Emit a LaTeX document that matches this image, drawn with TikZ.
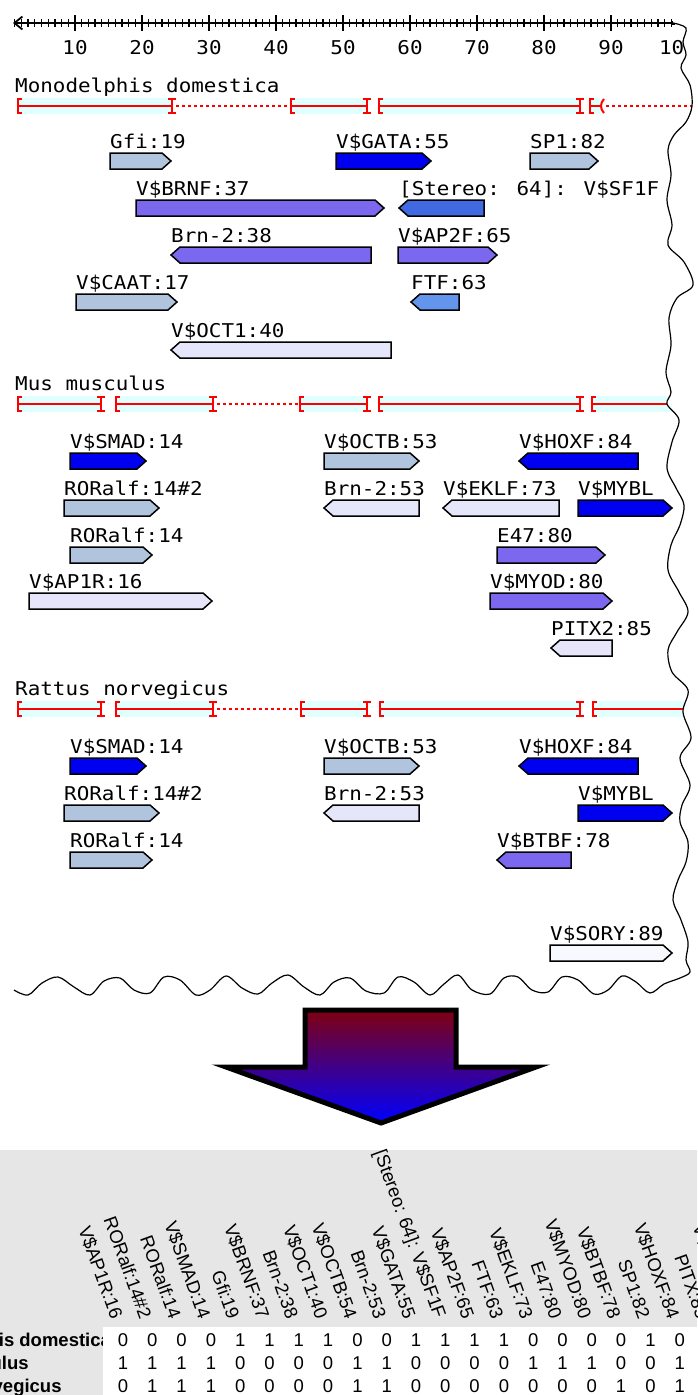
\documentclass[tikz,border=0pt]{standalone}
\usepackage{fontspec}
\usepackage{tikz}
\usetikzlibrary{arrows.meta}
\newfontfamily\seqfont[FakeStretch=1.1]{DejaVu Sans Mono}
\newfontfamily\tabfont{Liberation Sans}

\definecolor{lsblue}{HTML}{B0C4DE}
\definecolor{fullblue}{HTML}{0000F0}
\definecolor{msblue}{HTML}{7B68EE}
\definecolor{rblue}{HTML}{4169E1}
\definecolor{cfblue}{HTML}{6495ED}
\definecolor{lav}{HTML}{E6E6FA}
\definecolor{ghost}{HTML}{F8F8FF}
\definecolor{exonband}{HTML}{E0FFFF}
\definecolor{tablegray}{HTML}{E6E6E6}
\definecolor{darkred}{HTML}{800010}

% binding sites: box pointing right / left, label on top
\newcommand{\siteR}[6]{%
  \draw[site, fill=#5] (#2,#4) -- (#3-9,#4) -- (#3,#4+8) -- (#3-9,#4+16) -- (#2,#4+16) -- cycle;
  \node[sitelabel] (#1) at (#2,#4-5) {#6};}
\newcommand{\siteL}[6]{%
  \draw[site, fill=#5] (#3,#4) -- (#2+9,#4) -- (#2,#4+8) -- (#2+9,#4+16) -- (#3,#4+16) -- cycle;
  \node[sitelabel] (#1) at (#2,#4-5) {#6};}

% aligned blocks on the red line
\newcommand{\exon}[3]{%
  \fill[exonband] (#1,#3-8) rectangle (#2,#3+8);
  \draw[exonline] (#1,#3) -- (#2,#3);
  \draw[exonline] (#1+4,#3-7) -- (#1,#3-7) -- (#1,#3+7) -- (#1+4,#3+7);
  \draw[exonline] (#2,#3-7) -- (#2,#3+7) (#2-4,#3-7) -- (#2+4,#3-7) (#2-4,#3+7) -- (#2+4,#3+7);}
\newcommand{\exonopen}[3]{%
  \fill[exonband] (#1,#3-8) rectangle (#2,#3+8);
  \draw[exonline] (#1,#3) -- (#2,#3);
  \draw[exonline] (#1+4,#3-7) -- (#1,#3-7) -- (#1,#3+7) -- (#1+4,#3+7);}

% torn paper edge, right side then bottom
\newcommand{\tornpath}{plot[smooth, tension=0.55] coordinates {(673,23) (686,28) (683,42) (686,55)
  (681,68) (690,85) (692,106) (686,122) (674,135) (668,150) (671,175) (667,200) (672,225)
  (668,245) (684,262) (693,285) (677,298) (669,318) (671,345) (666,372) (671,392) (667,404)
  (679,420) (672,442) (667,468) (676,488) (684,505) (680,525) (671,545) (668,570) (679,592)
  (688,612) (677,632) (668,650) (672,672) (688,690) (683,712) (691,738) (680,758) (690,785)
  (682,805) (680,822) (688,842) (686,862) (678,880) (673,900) (681,920) (688,942) (686,960)
  (690,972) (680,978) (664,984) (650,993) (636,982) (622,976) (608,990) (594,994) (578,980)
  (562,977) (548,992) (532,990) (518,977) (504,978) (490,994) (472,990) (458,975) (444,984)
  (430,995) (414,982) (398,977) (384,993) (366,991) (350,978) (334,982) (320,995) (304,987)
  (288,975) (272,983) (258,994) (242,988) (226,976) (210,990) (196,995) (180,980) (164,977)
  (150,993) (134,990) (120,978) (104,981) (90,995) (74,987) (58,977) (42,983) (28,995) (14,990)}}

\begin{document}
\begin{tikzpicture}[x=1pt, y=-1pt,
    site/.style={draw=black, line width=1.5pt, line join=miter},
    sitelabel/.style={anchor=base west, inner sep=0pt, font=\seqfont\fontsize{19}{19}\selectfont},
    scalelabel/.style={inner sep=0pt, font=\seqfont\fontsize{19}{19}\selectfont},
    exonline/.style={red, line width=2pt},
    gapline/.style={red, line width=1.6pt, dash pattern=on 3pt off 3pt},
    rulertick/.style={black, line width=1.3pt},
    torn/.style={black, line width=1.2pt},
    cell/.style={anchor=base, inner sep=0pt, font=\tabfont\fontsize{18.5}{18.5}\selectfont},
    colhead/.style={anchor=east, rotate=-70, inner sep=0pt, font=\tabfont\fontsize{18.5}{18.5}\selectfont},
    rowhead/.style={anchor=base west, inner sep=0pt, font=\tabfont\bfseries\fontsize{18.5}{18.5}\selectfont}]
  \useasboundingbox (0,0) rectangle (697,1395);
  \clip (0,0) rectangle (697,1395);

  % scale
  \draw[line width=1.8pt, {Straight Barb[length=8pt,width=13pt]}-] (13,23) -- (673,23);
  \foreach \v in {1,...,99}
    \draw[rulertick] ({8+6.7*\v},19) -- ({8+6.7*\v},27);
  \foreach \v in {10,20,...,90}
    \draw[rulertick] ({8+6.7*\v},15) -- ({8+6.7*\v},31);
  \foreach \v in {10,20,...,100}
    \node[scalelabel] (s\v) at ({8+6.7*\v},48) {\v};
  \fill (671,21) rectangle (675,25);

  % Monodelphis domestica
  \node[sitelabel] (md) at (15,92) {Monodelphis domestica};
  \exon{18}{172}{106}
  \draw[gapline] (176,106) -- (291,106);
  \exon{291}{367}{106}
  \exon{379}{580}{106}
  \exonopen{590}{600}{106}
  \draw[exonline] (604,99) .. controls (600,103) and (600,109) .. (604,113);
  \draw[gapline] (606,106) -- (697,106);

  \siteR{gfiMd}{110}{171}{153}{lsblue}{Gfi:19}
  \siteR{gataMd}{336}{431}{153}{fullblue}{V\$GATA:55}
  \siteR{spMd}{530}{598}{153}{lsblue}{SP1:82}
  \siteR{brnfMd}{136}{384}{200}{msblue}{V\$BRNF:37}
  \siteL{sfMd}{399}{484}{200}{rblue}{[Stereo: 64]: V\$SF1F}
  \siteL{brnMd}{171}{371}{247}{msblue}{Brn-2:38}
  \siteR{aptwoMd}{398}{497}{247}{msblue}{V\$AP2F:65}
  \siteR{caatMd}{76}{177}{294}{lsblue}{V\$CAAT:17}
  \siteL{ftfMd}{411}{459}{294}{cfblue}{FTF:63}
  \siteL{octMd}{171}{391}{342}{lav}{V\$OCT1:40}

  % Mus musculus
  \node[sitelabel] (mm) at (15,390) {Mus musculus};
  \exon{18}{101}{404}
  \exon{116}{213}{404}
  \draw[gapline] (217,404) -- (300,404);
  \exon{300}{367}{404}
  \exon{379}{580}{404}
  \exonopen{592}{697}{404}

  \siteR{smadMm}{70}{146}{453}{fullblue}{V\$SMAD:14}
  \siteR{octbMm}{324}{419}{453}{lsblue}{V\$OCTB:53}
  \siteL{hoxfMm}{519}{638}{453}{fullblue}{V\$HOXF:84}
  \siteR{rorbMm}{64}{159}{500}{lsblue}{RORalf:14\#2}
  \siteL{brnMm}{324}{419}{500}{lav}{Brn-2:53}
  \siteL{eklfMm}{443}{559}{500}{lav}{V\$EKLF:73}
  \siteR{myblMm}{578}{672}{500}{fullblue}{V\$MYBL}
  \siteR{roraMm}{70}{152}{547}{lsblue}{RORalf:14}
  \siteR{eMm}{497}{605}{547}{msblue}{E47:80}
  \siteR{apMm}{29}{212}{593}{lav}{V\$AP1R:16}
  \siteR{myodMm}{490}{612}{593}{msblue}{V\$MYOD:80}
  \siteL{pitxMm}{551}{612}{640}{lav}{PITX2:85}

  % Rattus norvegicus
  \node[sitelabel] (rn) at (15,695) {Rattus norvegicus};
  \exon{18}{101}{709}
  \exon{116}{213}{709}
  \draw[gapline] (217,709) -- (301,709);
  \exon{301}{367}{709}
  \exon{380}{580}{709}
  \exonopen{593}{697}{709}

  \siteR{smadRn}{70}{146}{758}{fullblue}{V\$SMAD:14}
  \siteR{octbRn}{324}{419}{758}{lsblue}{V\$OCTB:53}
  \siteL{hoxfRn}{519}{638}{758}{fullblue}{V\$HOXF:84}
  \siteR{rorbRn}{64}{159}{805}{lsblue}{RORalf:14\#2}
  \siteL{brnRn}{324}{419}{805}{lav}{Brn-2:53}
  \siteR{myblRn}{578}{672}{805}{fullblue}{V\$MYBL}
  \siteR{roraRn}{70}{152}{852}{lsblue}{RORalf:14}
  \siteL{btbfRn}{497}{571}{852}{msblue}{V\$BTBF:78}
  \siteR{soryRn}{550}{672}{945}{ghost}{V\$SORY:89}

  % torn edge
  \fill[white] \tornpath -- (0,1003) -- (697,1003) -- (697,0) -- (673,0) -- cycle;
  \draw[torn] \tornpath;

  % big arrow
  \draw[line width=5pt, line join=miter, top color=darkred, bottom color=blue]
    (305,1010) -- (456,1010) -- (456,1067) -- (536,1067) -- (381,1123)
    -- (226,1067) -- (305,1067) -- cycle;

  % presence table
  \fill[tablegray] (0,1150) rectangle (697,1395);
  \node[rowhead] (rmd) at (-100,1346) {Monodelphis domestica};
  \node[rowhead] (rmm) at (-100,1369) {Mus musculus};
  \node[rowhead] (rrn) at (-100,1392) {Rattus norvegicus};
  \fill[white] (103,1327) rectangle (697,1395);
  \foreach \hd [count=\i from 0] in {V\$AP1R:16, RORalf:14\#2, RORalf:14, V\$SMAD:14, Gfi:19,
      V\$BRNF:37, Brn-2:38, V\$OCT1:40, V\$OCTB:54, Brn-2:53, V\$GATA:55, {[Stereo: 64]: V\$SF1F},
      V\$AP2F:65, FTF:63, V\$EKLF:73, E47:80, V\$MYOD:80, V\$BTBF:78, SP1:82, V\$HOXF:84,
      PITX:85, V\$SORY:89}
    \node[colhead] (h\i) at ({117+29.3*\i},1318) {\hd};
  \foreach \val [count=\i from 0] in {0,0,0,0,1,1,1,1,0,0,1,1,1,1,0,0,0,0,1,0}
    \node[cell] (md\i) at ({123+29.3*\i},1346) {\val};
  \foreach \val [count=\i from 0] in {1,1,1,1,0,0,0,0,1,1,0,0,0,0,1,1,1,0,0,1}
    \node[cell] (mm\i) at ({123+29.3*\i},1369) {\val};
  \foreach \val [count=\i from 0] in {0,1,1,1,0,0,0,0,1,1,0,0,0,0,0,0,0,1,0,1}
    \node[cell] (rn\i) at ({123+29.3*\i},1392) {\val};
\end{tikzpicture}
\end{document}
